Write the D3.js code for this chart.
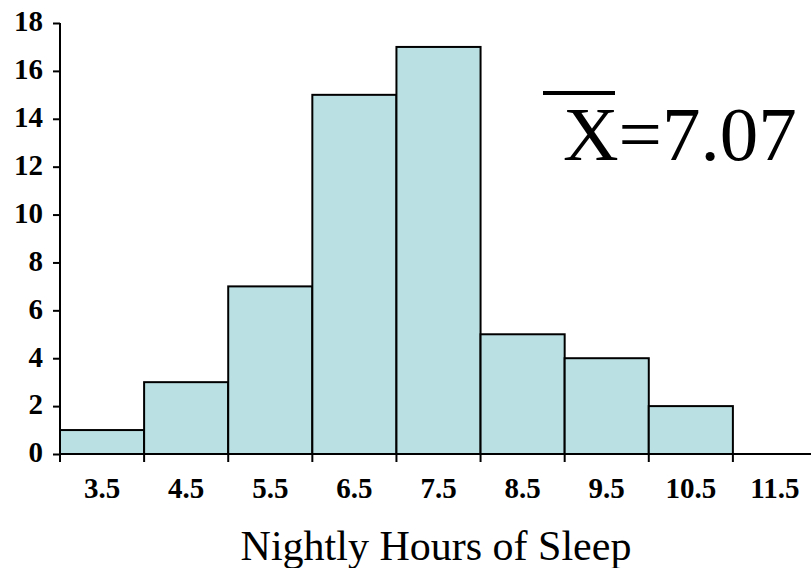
<!DOCTYPE html>
<html>
<head>
<meta charset="utf-8">
<script src="https://cdn.jsdelivr.net/npm/d3@7"></script>
<style>
  html, body { margin: 0; padding: 0; background: #fff; }
  svg { display: block; }
  svg text { font-family: "Liberation Serif", "Times New Roman", Times, "DejaVu Serif", serif; fill: #000; }
  .tick-label { font-weight: bold; font-size: 29px; }
</style>
</head>
<body>
<svg id="chart" width="811" height="568"></svg>
<script>
// Histogram of nightly hours of sleep
const binCenters = [3.5, 4.5, 5.5, 6.5, 7.5, 8.5, 9.5, 10.5];
const counts     = [1, 3, 7, 15, 17, 5, 4, 2];
const xTickLabels = ["3.5", "4.5", "5.5", "6.5", "7.5", "8.5", "9.5", "10.5", "11.5"];
const yTicks = [0, 2, 4, 6, 8, 10, 12, 14, 16, 18];
const meanValue = "7.07";
const xTitle = "Nightly Hours of Sleep";

const svg = d3.select("#chart");
const W = 811, H = 568;

const x = d3.scaleLinear().domain([3, 12]).range([60, 817]);
const y = d3.scaleLinear().domain([0, 18]).range([454, 23]);

const fill = "#bbe0e3";

// Bars
svg.append("g").selectAll("rect")
  .data(binCenters)
  .join("rect")
  .attr("x", (d) => x(d - 0.5))
  .attr("width", (d) => x(d + 0.5) - x(d - 0.5))
  .attr("y", (d, i) => y(counts[i]))
  .attr("height", (d, i) => y(0) - y(counts[i]))
  .attr("fill", fill)
  .attr("stroke", "#000")
  .attr("stroke-width", 2);

// Y axis
const yAxis = d3.axisLeft(y).tickValues(yTicks).tickSize(7).tickPadding(10).tickFormat(d3.format("d"));
const gy = svg.append("g").attr("transform", `translate(${x(3)},0)`).call(yAxis);
gy.attr("font-family", null).attr("font-size", null);
gy.select(".domain").attr("stroke-width", 2).attr("d", `M0,${y(18)}V${y(0)}`);
gy.selectAll(".tick line").attr("stroke-width", 2);
gy.selectAll(".tick text")
  .attr("class", "tick-label")
  .attr("dy", "0.27em");

// X axis: ticks at bin edges, labels at bin centers
const edges = d3.range(3, 12);
const gx = svg.append("g");
gx.append("line")
  .attr("x1", x(3)).attr("x2", W)
  .attr("y1", y(0)).attr("y2", y(0))
  .attr("stroke", "#000").attr("stroke-width", 2);
gx.selectAll("line.tick")
  .data(edges)
  .join("line")
  .attr("class", "tick")
  .attr("x1", (d) => x(d)).attr("x2", (d) => x(d))
  .attr("y1", y(0)).attr("y2", y(0) + 8)
  .attr("stroke", "#000").attr("stroke-width", 2);
gx.selectAll("text")
  .data(xTickLabels)
  .join("text")
  .attr("class", "tick-label")
  .attr("x", (d) => x(+d))
  .attr("y", 498)
  .attr("text-anchor", "middle")
  .text((d) => d);

// Axis title
svg.append("text")
  .attr("x", 436).attr("y", 560)
  .attr("text-anchor", "middle")
  .style("font-size", "42px")
  .text(xTitle);

// Mean annotation: X with an overbar
svg.append("text")
  .attr("x", 563).attr("y", 160)
  .style("font-size", "77px")
  .text("X=" + meanValue);
svg.append("line")
  .attr("x1", 543).attr("x2", 615)
  .attr("y1", 93).attr("y2", 93)
  .attr("stroke", "#000").attr("stroke-width", 4);
</script>
</body>
</html>
